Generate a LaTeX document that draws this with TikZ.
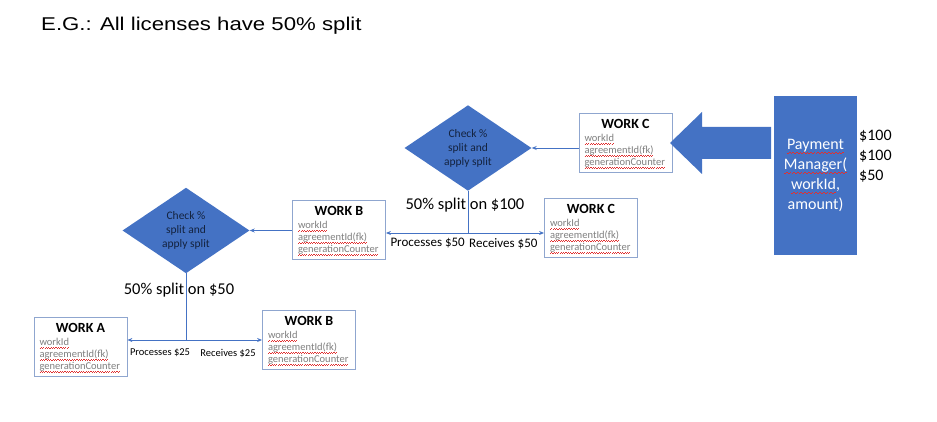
\documentclass[tikz,border=0pt]{standalone}
\usepackage{fontspec}
\setmainfont{Carlito}
\newfontfamily\titlefont[FakeStretch=1.2]{Liberation Sans}
\usepackage{tikz}
\usetikzlibrary{positioning}
\usetikzlibrary{arrows.meta}
\usetikzlibrary{shapes.geometric}

\definecolor{pmblue}{HTML}{4472C4}
\definecolor{boxline}{HTML}{8FA6CF}
\definecolor{fieldgray}{HTML}{7F7F7F}
\definecolor{squigred}{HTML}{E03030}
\definecolor{chktext}{HTML}{14233F}

\newcommand{\wavebit}{\hbox{\rule[-.27em]{.11em}{.06em}\rule[-.2em]{.11em}{.06em}}}
\newcommand{\squig}[1]{\leavevmode\setbox0=\hbox{#1}\rlap{\color{squigred}\hbox to\wd0{\xleaders\wavebit\hfil}}\box0}
\newcommand{\workfields}[1]{\begin{minipage}{82pt}\vspace*{3pt}\centering\fontsize{14}{16}\selectfont\bfseries #1\par\vspace{1.5pt}\raggedright\fontsize{10.5}{12}\selectfont\mdseries\color{fieldgray}\squig{workId}\\\squig{agreementId(fk)}\\\squig{generationCounter}\end{minipage}}

\tikzset{
  workbox/.style={draw=boxline,line width=0.8pt,fill=white,inner sep=0pt,minimum width=93pt,minimum height=59pt},
  checkbox/.style={diamond,fill=pmblue,inner sep=0pt,minimum width=127pt,minimum height=78pt,align=center,text=chktext,font=\fontsize{11.5}{14}\selectfont},
  link/.style={pmblue,line width=0.8pt,-{Stealth[length=5pt,width=4pt]}},
  biglink/.style={pmblue,line width=0.8pt,{Stealth[length=5pt,width=4pt]}-{Stealth[length=5pt,width=4pt]}},
  plain/.style={inner sep=0pt}
}

\begin{document}
\begin{tikzpicture}[x=1pt,y=-1pt]
  \useasboundingbox (0,0) rectangle (937,422);
  \node[plain,anchor=west] (title) at (41,26) {\titlefont\fontsize{18.5}{22}\selectfont E.G.: All licenses have 50\% split};
  % payment manager
  \node[plain,fill=pmblue,minimum width=83pt,minimum height=159pt,align=center,text=white,font=\fontsize{16}{20}\selectfont] (pm) at (815.5,175.5) {\squig{Payment}\\\squig{Manager(}\\\squig{workId},\\amount)};
  \node[plain,anchor=west,align=left,font=\fontsize{16}{20}\selectfont] (amt) at (859,156) {\$100\\\$100\\\$50};
  \node[workbox] (wc1) at (625.5,142.5) {\workfields{WORK C}};
  \coordinate (tip) at (670,143);
  \fill[pmblue] (tip) -- ++(32,-31) -- ++(0,15) -- ++(69,0) -- ++(0,32) -- ++(-69,0) -- ++(0,15) -- cycle;
  % first split
  \node[checkbox] (chk1) at (468,148) {Check \%\\split and\\apply split};
  \draw[link] (wc1.west |- chk1.east) -- (chk1.east);
  \node[plain,font=\fontsize{16.5}{20}\selectfont] (pc1) at (465,205) {50\% split on \$100};
  \node[workbox] (wc2) at (591,227.5) {\workfields{WORK C}};
  \node[workbox] (wb1) at (339,229.5) {\workfields{WORK B}};
  \coordinate (sp1) at (468,233);
  \draw[pmblue,line width=0.8pt] (chk1.south) -- (sp1);
  \draw[biglink] (wb1.east |- sp1) -- (wc2.west |- sp1);
  \node[plain,anchor=north east,font=\fontsize{13}{15}\selectfont] (pr1) at (465,238) {Processes \$50};
  \node[plain,anchor=north west,font=\fontsize{13}{15}\selectfont] (rc1) at (469,238) {Receives \$50};
  % second split
  \node[checkbox] (chk2) at (186,230.5) {Check \%\\split and\\apply split};
  \draw[link] (wb1.west |- chk2.east) -- (chk2.east);
  \node[plain,font=\fontsize{16.5}{20}\selectfont] (pc2) at (179,290) {50\% split on \$50};
  \node[workbox] (wa) at (80.5,346.5) {\workfields{WORK A}};
  \node[workbox] (wb2) at (309,339.5) {\workfields{WORK B}};
  \coordinate (sp2) at (186,340);
  \draw[pmblue,line width=0.8pt] (chk2.south) -- (sp2);
  \draw[biglink] (wa.east |- sp2) -- (wb2.west |- sp2);
  \node[plain,font=\fontsize{10.5}{13}\selectfont] (pr2) at (160,353) {Processes \$25};
  \node[plain,font=\fontsize{10.5}{13}\selectfont] (rc2) at (228,353) {Receives \$25};
\end{tikzpicture}
\end{document}
